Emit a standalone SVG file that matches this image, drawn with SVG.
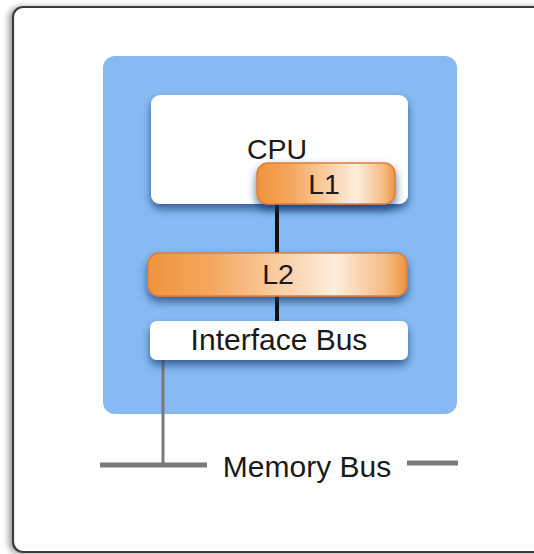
<svg xmlns="http://www.w3.org/2000/svg" width="534" height="554" viewBox="0 0 534 554">
  <defs>
    <linearGradient id="orange" x1="0" y1="0" x2="1" y2="0">
      <stop offset="0" stop-color="#f0933c"/>
      <stop offset="0.25" stop-color="#f4a85e"/>
      <stop offset="0.72" stop-color="#fdeedd"/>
      <stop offset="0.92" stop-color="#f6bb82"/>
      <stop offset="1" stop-color="#ef9440"/>
    </linearGradient>
    <filter id="frameShadow" x="-5%" y="-5%" width="110%" height="110%">
      <feDropShadow dx="-3" dy="1" stdDeviation="3" flood-color="#000" flood-opacity="0.4"/>
    </filter>
    <filter id="nodeShadow" x="-10%" y="-20%" width="120%" height="170%">
      <feDropShadow dx="0" dy="5" stdDeviation="4.5" flood-color="#16356a" flood-opacity="0.7"/>
    </filter>
  </defs>
  <style>
    .lbl { font-family: "Liberation Sans", Arial, sans-serif; fill: #1a1a1a; text-anchor: middle; }
    .white { fill: #ffffff; }
    .cache { fill: url(#orange); stroke: #dd7f38; stroke-width: 1.5; }
  </style>
  <rect x="0" y="0" width="534" height="554" fill="#ffffff"/>
  <g id="frame">
    <rect x="13" y="7" width="560" height="545" rx="10" fill="#ffffff" stroke="#3c3c3c" stroke-width="2.2" filter="url(#frameShadow)"/>
  </g>
  <g id="system">
    <rect x="103" y="56" width="354" height="358" rx="12" fill="#87baf2"/>
  </g>
  <g id="cpu">
    <rect class="white" x="151" y="95" width="257" height="109" rx="9" filter="url(#nodeShadow)"/>
    <text class="lbl" x="277" y="159" font-size="28.5">CPU</text>
  </g>
  <g id="connectors">
    <line x1="277" y1="200" x2="277" y2="256" stroke="#111" stroke-width="4"/>
    <line x1="277" y1="294" x2="277" y2="323" stroke="#111" stroke-width="4"/>
    <polyline points="163,358 163,465" fill="none" stroke="#7a7a7a" stroke-width="3"/>
    <line x1="100" y1="465" x2="207" y2="465" stroke="#7a7a7a" stroke-width="5"/>
    <line x1="407" y1="463" x2="458" y2="463" stroke="#7a7a7a" stroke-width="5"/>
  </g>
  <g id="l1">
    <rect class="cache" x="257" y="163" width="138" height="41" rx="11" filter="url(#nodeShadow)"/>
    <text class="lbl" x="324" y="194" font-size="28.5">L1</text>
  </g>
  <g id="l2">
    <rect class="cache" x="148" y="253" width="259" height="43" rx="11" filter="url(#nodeShadow)"/>
    <text class="lbl" x="278" y="284" font-size="28.5">L2</text>
  </g>
  <g id="interface-bus">
    <rect class="white" x="150" y="321" width="258" height="39" rx="7" filter="url(#nodeShadow)"/>
    <text class="lbl" x="279" y="350" font-size="30">Interface Bus</text>
  </g>
  <g id="memory-bus">
    <text class="lbl" x="307" y="477" font-size="30">Memory Bus</text>
  </g>
</svg>
